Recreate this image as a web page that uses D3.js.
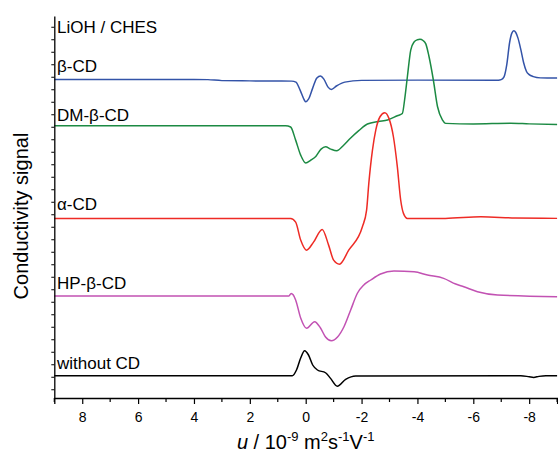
<!DOCTYPE html>
<html lang="en">
<head>
  <meta charset="UTF-8">
  <title>Conductivity signal vs mobility</title>
  <script src="https://d3js.org/d3.v7.min.js"></script>
  <style>
    body { margin: 0; background: #fff; }
    svg { display: block; font-family: 'Liberation Sans', Arial, sans-serif; }
  </style>
</head>
<body>
  <svg width="558" height="459"></svg>
  <script>
    // trace names, colours and vertical offsets (signal units)
    const names = ["\u03b2-CD", "DM-\u03b2-CD", "\u03b1-CD", "HP-\u03b2-CD", "without CD"];
    const colors = ["#3353a8", "#1c8a43", "#ee2b25", "#c252b3", "#000000"];
    const offsets = [24.79, 21.08, 13.67, 7.46, 1.08];
    const labelLevels = [25.4, 21.48, 14.34, 8.02, 1.59];

    // [u, signal above its own baseline]
    const betaCD = [[9,0],[4,0],[3.5,-0.02],[3,-0.1],[2,-0.12],[0.5,-0.14],[0.35,-0.22],[0.2,-0.86],[0.05,-1.65],[0,-1.79],[-0.1,-1.58],[-0.25,-0.7],[-0.4,0.11],[-0.53,0.27],[-0.65,0.02],[-0.8,-0.62],[-0.92,-0.8],[-1.1,-0.53],[-1.4,-0.22],[-2,-0.08],[-4,-0.06],[-6.9,-0.06],[-7.0,-0.02],[-7.1,0.2],[-7.2,1.2],[-7.3,2.95],[-7.38,3.7],[-7.45,3.89],[-7.52,3.75],[-7.6,3.3],[-7.7,2.4],[-7.8,1.35],[-7.9,0.65],[-8.0,0.38],[-8.15,0.22],[-8.4,0.12],[-9,0.1]];
    const dmBetaCD = [[9,0],[0.72,0],[0.54,-0.1],[0.36,-1.15],[0.18,-2.35],[0,-2.98],[-0.18,-2.76],[-0.36,-2.46],[-0.55,-1.87],[-0.71,-1.68],[-0.9,-1.87],[-1.11,-2.0],[-1.35,-1.58],[-1.61,-0.98],[-1.9,-0.39],[-2.21,0.14],[-2.6,0.34],[-2.93,0.46],[-3.28,0.8],[-3.46,0.98],[-3.54,2.06],[-3.64,3.92],[-3.76,6.05],[-3.88,6.7],[-4.0,6.88],[-4.09,6.92],[-4.2,6.82],[-4.3,6.55],[-4.41,5.58],[-4.57,3.66],[-4.72,1.52],[-4.9,0.45],[-5.01,0.19],[-6,0.15],[-7.34,0.2],[-8,0.15],[-9,0.1]];
    const alphaCD = [[9,0],[0.54,0],[0.36,-0.3],[0.18,-1.73],[-0.03,-2.54],[-0.28,-1.9],[-0.59,-0.88],[-0.82,-2.14],[-1.0,-3.34],[-1.21,-3.66],[-1.54,-2.54],[-2.03,-0.67],[-2.18,0.66],[-2.26,2.82],[-2.39,5.46],[-2.51,7.08],[-2.66,8.13],[-2.83,8.45],[-2.98,8.0],[-3.14,6.53],[-3.28,4.14],[-3.4,1.47],[-3.5,0.4],[-3.64,0],[-5,0],[-6.27,0.13],[-7.5,0.03],[-9,0]];
    const hpBetaCD = [[9,0],[0.6,0],[0.52,0.21],[0.45,0.1],[0.36,-0.32],[0.18,-1.76],[-0.03,-2.58],[-0.32,-2.05],[-0.53,-2.56],[-0.71,-3.28],[-0.92,-3.58],[-1.14,-3.28],[-1.37,-2.46],[-1.61,-1.12],[-1.85,0.22],[-2.08,0.88],[-2.33,1.28],[-2.68,1.76],[-3.16,2.0],[-3.88,1.94],[-4.36,1.68],[-4.94,1.41],[-5.37,0.96],[-5.66,0.74],[-6.15,0.34],[-6.87,0.08],[-9,-0.06]];
    const noCD = [[9,0],[0.48,0],[0.33,0.46],[0.18,1.42],[0.04,2.0],[-0.1,1.66],[-0.25,0.86],[-0.42,0.46],[-0.71,0.24],[-0.89,-0.21],[-1.13,-0.83],[-1.43,-0.29],[-1.79,-0.02],[-7.7,0],[-8.0,-0.08],[-8.16,-0.13],[-8.35,-0.05],[-8.6,0],[-9,0]];
    const traces = [betaCD, dmBetaCD, alphaCD, hpBetaCD, noCD];

    const majorTicks = [8, 6, 4, 2, 0, -2, -4, -6, -8];
    const minorTicks = [9, 7, 5, 3, 1, -1, -3, -5, -7, -9];

    const font = "'Liberation Sans', Arial, sans-serif";
    const svg = d3.select("svg");

    const x = d3.scaleLinear().domain([9, -9]).range([54.3, 557.1]);
    const y = d3.scaleLinear().domain([-0.7, 29.86]).range([398, 16]);

    // traces
    const line = d3.line()
      .x(d => x(d[0]))
      .y(d => y(d[1]))
      .curve(d3.curveMonotoneX);

    traces.forEach((t, i) => {
      svg.append("path")
        .datum(t.map(d => [d[0], d[1] + offsets[i]]))
        .attr("fill", "none")
        .attr("stroke", colors[i])
        .attr("stroke-width", 1.5)
        .attr("d", line);
    });

    // x axis: major + minor ticks
    const xAxis = svg.append("g")
      .attr("transform", `translate(0,${y(-0.7)})`)
      .call(d3.axisBottom(x).tickValues(majorTicks).tickSize(6).tickPadding(8)
        .tickFormat(d => String(d)));
    xAxis.select(".domain").attr("stroke-width", 1.3);
    xAxis.selectAll(".tick line").attr("stroke-width", 1.2);
    xAxis.selectAll("text").attr("font-size", 14).attr("font-family", font);

    svg.append("g")
      .attr("transform", `translate(0,${y(-0.7)})`)
      .selectAll("line")
      .data(minorTicks)
      .join("line")
      .attr("x1", d => x(d)).attr("x2", d => x(d))
      .attr("y1", 0).attr("y2", 4)
      .attr("stroke", "#000").attr("stroke-width", 1.2);

    // y axis: small outward ticks, no labels
    const yAxis = svg.append("g")
      .attr("transform", `translate(${x(9)},0)`)
      .call(d3.axisLeft(y).tickValues(d3.range(0, 30)).tickSize(3).tickSizeOuter(0).tickFormat(""));
    yAxis.select(".domain").attr("stroke-width", 1.3);
    yAxis.selectAll(".tick line").attr("stroke-width", 1);

    // trace labels
    svg.append("text")
      .attr("x", 57).attr("y", y(28.52))
      .attr("font-size", 17)
      .text("LiOH / CHES");

    names.forEach((n, i) => {
      svg.append("text")
        .attr("x", 57).attr("y", y(labelLevels[i]))
        .attr("font-size", 17)
        .text(n);
    });

    // axis titles
    const xt = svg.append("text")
      .attr("x", (x(9) + x(-9)) / 2)
      .attr("y", 449)
      .attr("text-anchor", "middle")
      .attr("font-size", 20);
    xt.append("tspan").attr("font-style", "italic").text("u");
    xt.append("tspan").text(" / 10");
    xt.append("tspan").attr("font-size", 13).attr("dy", -8).text("-9");
    xt.append("tspan").attr("dy", 8).text(" m");
    xt.append("tspan").attr("font-size", 13).attr("dy", -8).text("2");
    xt.append("tspan").attr("dy", 8).text("s");
    xt.append("tspan").attr("font-size", 13).attr("dy", -8).text("-1");
    xt.append("tspan").attr("dy", 8).text("V");
    xt.append("tspan").attr("font-size", 13).attr("dy", -8).text("-1");

    svg.append("text")
      .attr("transform", "translate(27.6,216) rotate(-90)")
      .attr("text-anchor", "middle")
      .attr("font-size", 20)
      .text("Conductivity signal");
  </script>
</body>
</html>
